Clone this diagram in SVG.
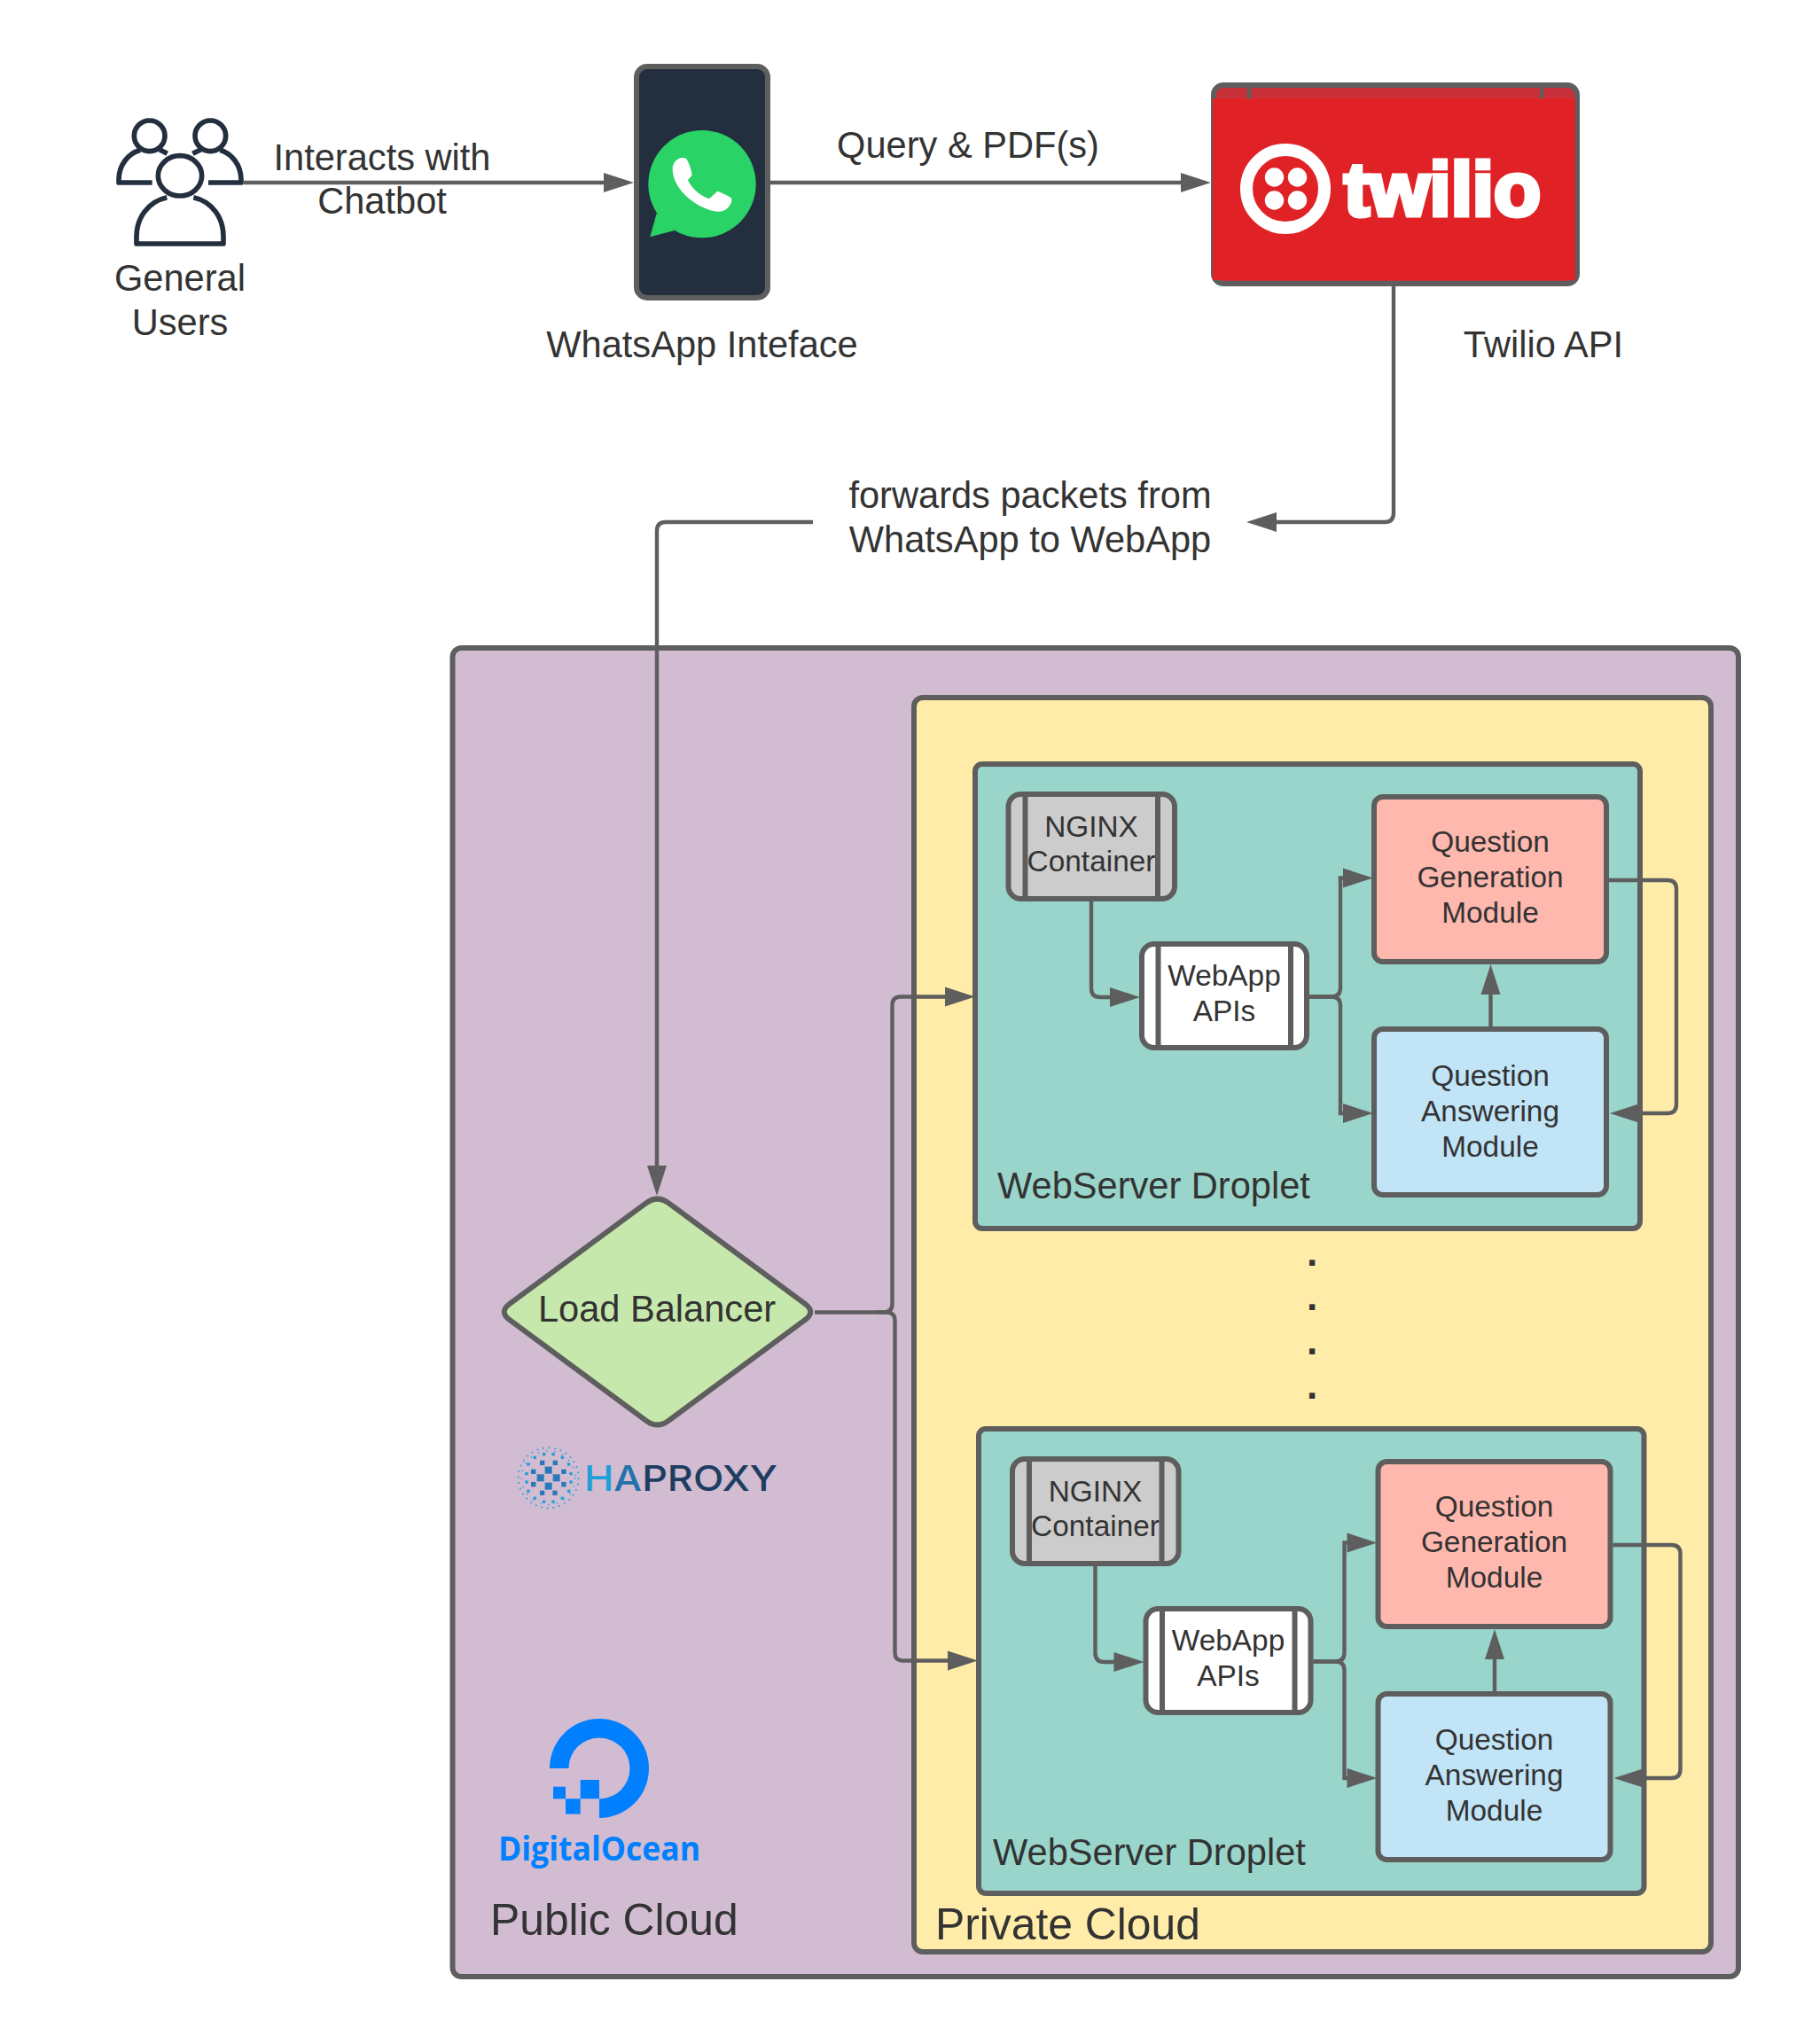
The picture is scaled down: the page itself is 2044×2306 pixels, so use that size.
<svg xmlns="http://www.w3.org/2000/svg" width="2044" height="2306" viewBox="0 0 2044 2306">
<style>
text{font-family:"Liberation Sans",Arial,sans-serif;fill:#333}
.c{text-anchor:middle}
.t41{font-size:41.600px}
.t33{font-size:33.400px}
.t49{font-size:49.800px}
.box{stroke:#5e5e5e;stroke-width:6;stroke-linejoin:round}
.sep{stroke:#5e5e5e;stroke-width:6;fill:none}
.con{fill:none;stroke:#5e5e5e;stroke-width:4.400}
.arr{marker-end:url(#ah)}
.ic{fill:none;stroke:#232f3e;stroke-width:17;stroke-linejoin:round}
.sq{fill:#2a78b8}
.sd{fill:#1f9fd9}
</style>
<defs>
<marker id="ah" markerUnits="userSpaceOnUse" markerWidth="36" markerHeight="24" refX="24" refY="11" orient="auto" overflow="visible"><path d="M0 0L34 11L0 22Z" fill="#5e5e5e"/></marker>
</defs>
<rect width="2044" height="2306" fill="#fff"/>
<g id="public-cloud"><rect class="box" x="510.500" y="731" width="1450.500" height="1499" rx="10" fill="#d1bcd2"/><text class="t49" x="553" y="2183">Public Cloud</text></g>
<g id="private-cloud"><rect class="box" x="1031" y="787" width="899" height="1415" rx="10" fill="#ffeca9"/><text class="t49" x="1055" y="2188">Private Cloud</text></g>
<g id="users" transform="translate(120 120) scale(.3333)">
<circle class="ic" cx="146" cy="100" r="52"/><circle class="ic" cx="352" cy="100" r="52"/>
<path class="ic" d="M155 258H42V248C42 200 72 160 115 148M180 146L206 160"/>
<path class="ic" d="M345 258H456V248C456 200 426 160 385 148M320 146L292 160"/>
<ellipse class="ic" cx="249" cy="235" rx="74" ry="68"/>
<path class="ic" d="M205 308C140 322 102 380 102 440V465H396V440C396 380 360 322 295 308"/>
</g>
<text class="t41 c" x="203" y="328">General</text><text class="t41 c" x="203" y="378">Users</text>
<g id="whatsapp">
<rect class="box" x="718" y="75" width="148" height="261" rx="12" fill="#232f3e"/>
<g transform="translate(700 120) scale(.3333)">
<circle cx="276" cy="263" r="182" fill="#29d366"/><path d="M122 362L100 442L183 420Z" fill="#29d366"/>
<path fill="#fff" d="M176 212C176 185 200 168 222 176C232 190 240 215 242 232C238 240 228 248 228 250C245 285 275 305 300 313L328 287C345 294 365 302 376 311C378 335 355 360 325 356C255 345 176 280 176 212Z"/>
</g>
<text class="t41 c" x="792" y="403">WhatsApp Inteface</text>
</g>
<g id="twilio">
<rect class="box" x="1369" y="96" width="410" height="224" rx="11" fill="#c8303a"/>
<rect x="1368" y="111" width="409" height="205" fill="#e02226"/>
<path class="con" d="M1409 99V111M1739 99V111"/>
<circle cx="1450" cy="213" r="44" fill="none" stroke="#fff" stroke-width="14"/>
<circle cx="1437.500" cy="200" r="10.700" fill="#fff"/><circle cx="1463.500" cy="200" r="10.700" fill="#fff"/><circle cx="1437.500" cy="226" r="10.700" fill="#fff"/><circle cx="1463.500" cy="226" r="10.700" fill="#fff"/>
<text x="1516" y="243" font-size="85" font-weight="700" textLength="222" lengthAdjust="spacingAndGlyphs" style="fill:#fff;stroke:#fff;stroke-width:5">twilio</text>
<text class="t41 c" x="1741" y="403">Twilio API</text>
</g>
<g id="load-balancer">
<path class="box" fill="#c7e8ac" d="M754 1357.200L908 1470.800Q920.500 1480 908 1489.200L754 1602.800Q741.500 1612 729 1602.800L575 1489.200Q562.500 1480 575 1470.800L729 1357.200Q741.500 1348 754 1357.200Z"/>
<text class="t41 c" x="741" y="1491">Load Balancer</text>
</g>
<g id="haproxy">
<g transform="translate(540 1330) scale(.3333)">
<g class="sq"><rect x="224" y="974" width="24" height="24"/><rect x="197" y="1000" width="24" height="24"/><rect x="251" y="1000" width="24" height="24"/><rect x="224" y="1028" width="24" height="24"/>
<rect x="207" y="953" width="16" height="16"/><rect x="251" y="953" width="16" height="16"/><rect x="177" y="983" width="16" height="16"/><rect x="280" y="983" width="16" height="16"/><rect x="177" y="1026" width="16" height="16"/><rect x="280" y="1026" width="16" height="16"/><rect x="207" y="1055" width="16" height="16"/><rect x="250" y="1055" width="16" height="16"/></g>
<g class="sd"><rect x="216" y="927" width="10" height="10"/><rect x="247" y="927" width="10" height="10"/><rect x="185" y="938" width="10" height="10"/><rect x="278" y="938" width="10" height="10"/><rect x="163" y="961" width="10" height="10"/><rect x="300" y="961" width="10" height="10"/><rect x="157" y="993" width="10" height="10"/><rect x="307" y="993" width="10" height="10"/><rect x="157" y="1021" width="10" height="10"/><rect x="307" y="1021" width="10" height="10"/><rect x="163" y="1052" width="10" height="10"/><rect x="300" y="1052" width="10" height="10"/><rect x="185" y="1076" width="10" height="10"/><rect x="278" y="1076" width="10" height="10"/><rect x="216" y="1088" width="10" height="10"/><rect x="247" y="1088" width="10" height="10"/></g>
<circle cx="236" cy="1012" r="102" fill="none" stroke="#1f9fd9" stroke-width="5" stroke-dasharray="5 15"/>
<circle cx="236" cy="1012" r="91" fill="none" stroke="#1f9fd9" stroke-width="4" stroke-dasharray="4 24"/>
</g>
<text x="659" y="1682" font-size="40" textLength="218" lengthAdjust="spacingAndGlyphs" style="font-family:Inter,'Liberation Sans',sans-serif;font-weight:500"><tspan style="fill:#1f9fd9">H</tspan><tspan style="fill:#2272ab">A</tspan><tspan style="fill:#1d3e60">PROXY</tspan></text>
</g>
<g id="digitalocean" fill="#0080ff">
<path d="M620 1995A56 56 0 1 1 676 2051V2029.500A34.500 34.500 0 1 0 641.500 1995Z"/>
<rect x="654.700" y="2008" width="21.300" height="21.300"/><rect x="638" y="2029.300" width="16.700" height="17.300"/><rect x="624" y="2015.700" width="14" height="13.700"/>
<text x="562" y="2098.500" font-size="37" textLength="228" lengthAdjust="spacingAndGlyphs" style="font-family:'Open Sans','Liberation Sans',sans-serif;font-weight:700;fill:#0080ff">DigitalOcean</text>
</g>
<g id="ellipsis"><text class="c" x="1480" y="1428" font-size="44" font-weight="700">.</text><text class="c" x="1480" y="1478" font-size="44" font-weight="700">.</text><text class="c" x="1480" y="1528" font-size="44" font-weight="700">.</text><text class="c" x="1480" y="1578" font-size="44" font-weight="700">.</text></g>
<g id="droplet-1">
<rect class="box" x="1100" y="862" width="750" height="524" rx="8" fill="#99d5ca"/>
<text class="t41" x="1125" y="1352">WebServer Droplet</text>
<g id="nginx-1"><rect class="box" x="1137.500" y="896" width="187.500" height="118" rx="14" fill="#ccc"/><path class="sep" d="M1156.500 896V1014M1306 896V1014"/><text class="t33 c" x="1231" y="944">NGINX</text><text class="t33 c" x="1231" y="983">Container</text></g>
<g id="webapp-1"><rect class="box" x="1288" y="1065" width="186" height="117" rx="14" fill="#fff"/><path class="sep" d="M1306.500 1065V1182M1456 1065V1182"/><text class="t33 c" x="1381" y="1111.500">WebApp</text><text class="t33 c" x="1381" y="1151.500">APIs</text></g>
<g id="qgen-1"><rect class="box" x="1550" y="899" width="262" height="186" rx="10" fill="#ffb8ae"/><text class="t33 c" x="1681" y="961">Question</text><text class="t33 c" x="1681" y="1001">Generation</text><text class="t33 c" x="1681" y="1041">Module</text></g>
<g id="qans-1"><rect class="box" x="1550" y="1161" width="262" height="187" rx="10" fill="#c1e4f7"/><text class="t33 c" x="1681" y="1224.500">Question</text><text class="t33 c" x="1681" y="1264.500">Answering</text><text class="t33 c" x="1681" y="1304.500">Module</text></g>
</g>
<g id="droplet-2">
<rect class="box" x="1104" y="1612" width="750.500" height="524" rx="8" fill="#99d5ca"/>
<text class="t41" x="1120" y="2104">WebServer Droplet</text>
<g transform="translate(4.500 750)">
<g id="nginx-2"><rect class="box" x="1137.500" y="896" width="187.500" height="118" rx="14" fill="#ccc"/><path class="sep" d="M1156.500 896V1014M1306 896V1014"/><text class="t33 c" x="1231" y="944">NGINX</text><text class="t33 c" x="1231" y="983">Container</text></g>
<g id="webapp-2"><rect class="box" x="1288" y="1065" width="186" height="117" rx="14" fill="#fff"/><path class="sep" d="M1306.500 1065V1182M1456 1065V1182"/><text class="t33 c" x="1381" y="1111.500">WebApp</text><text class="t33 c" x="1381" y="1151.500">APIs</text></g>
<g id="qgen-2"><rect class="box" x="1550" y="899" width="262" height="186" rx="10" fill="#ffb8ae"/><text class="t33 c" x="1681" y="961">Question</text><text class="t33 c" x="1681" y="1001">Generation</text><text class="t33 c" x="1681" y="1041">Module</text></g>
<g id="qans-2"><rect class="box" x="1550" y="1161" width="262" height="187" rx="10" fill="#c1e4f7"/><text class="t33 c" x="1681" y="1224">Question</text><text class="t33 c" x="1681" y="1264">Answering</text><text class="t33 c" x="1681" y="1304">Module</text></g>
</g>
</g>
<g id="connectors">
<path class="con arr" d="M275 206H705"/>
<path class="con arr" d="M869 206H1356"/>
<path class="con arr" d="M1572 323V579Q1572 589 1562 589H1416"/>
<path class="con" d="M917 589H751Q741 589 741 599V731"/>
<path class="con arr" d="M741 731V1339"/>
<path class="con arr" d="M919 1480.500H997Q1006.500 1480.500 1006.500 1471V1134Q1006.500 1124.500 1016 1124.500H1090"/>
<path class="con arr" d="M990 1480.500H1000Q1009.500 1480.500 1009.500 1490V1865Q1009.500 1873.500 1019 1873.500H1093"/>
<g id="conn-1"><path class="con arr" d="M1231 1017V1115Q1231 1125 1241 1125H1276"/>
<path class="con arr" d="M1477 1124.500H1502Q1512 1124.500 1512 1114.500V990.500H1539"/>
<path class="con arr" d="M1477 1124.500H1502Q1512 1124.500 1512 1134.500V1256H1539"/>
<path class="con arr" d="M1681.500 1161V1098"/>
<path class="con arr" d="M1815 993H1881Q1891 993 1891 1003V1246Q1891 1256 1881 1256H1826"/></g>
<g id="conn-2" transform="translate(4.500 750)"><path class="con arr" d="M1231 1017V1115Q1231 1125 1241 1125H1276"/>
<path class="con arr" d="M1477 1124.500H1502Q1512 1124.500 1512 1114.500V990.500H1539"/>
<path class="con arr" d="M1477 1124.500H1502Q1512 1124.500 1512 1134.500V1256H1539"/>
<path class="con arr" d="M1681.500 1161V1098"/>
<path class="con arr" d="M1815 993H1881Q1891 993 1891 1003V1246Q1891 1256 1881 1256H1826"/></g>
</g>
<g id="edge-labels">
<text class="t41 c" x="431" y="192">Interacts with</text><text class="t41 c" x="431" y="241">Chatbot</text>
<text class="t41 c" x="1092" y="178">Query &amp; PDF(s)</text>
<text class="t41 c" x="1162" y="573">forwards packets from</text><text class="t41 c" x="1162" y="623">WhatsApp to WebApp</text>
</g>
</svg>
